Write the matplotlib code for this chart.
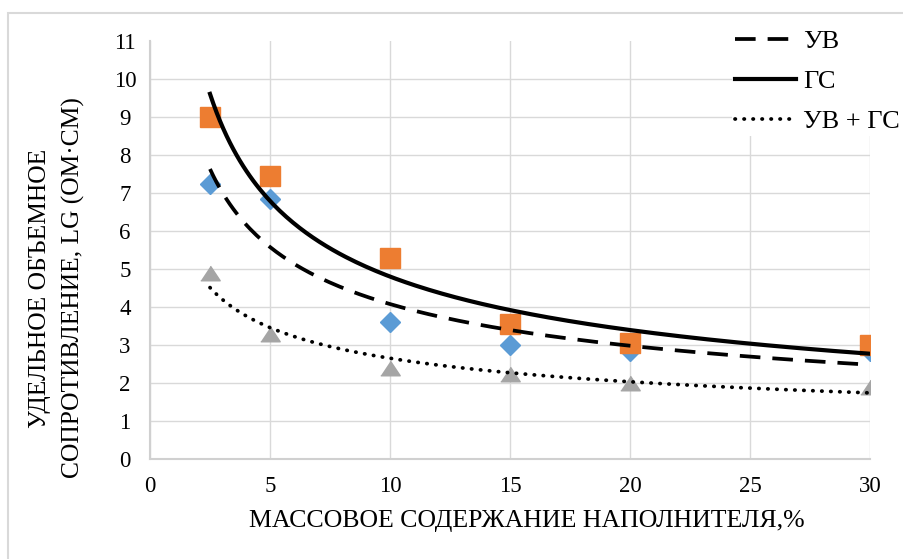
import numpy as np
import matplotlib.pyplot as plt
from matplotlib.patches import Rectangle

plt.rcParams['font.family'] = ['Liberation Serif', 'DejaVu Serif']

# filler content, %
x = [2.5, 5, 10, 15, 20, 30]
# lg of volume resistivity
uv = [7.25, 6.85, 3.6, 3.0, 2.85, 2.85]
gs = [9.0, 7.45, 5.3, 3.55, 3.05, 3.0]
uv_gs = [4.9, 3.3, 2.4, 2.25, 2.0, 1.9]

xticks = [0, 5, 10, 15, 20, 25, 30]
yticks = list(range(0, 12))

fig = plt.figure(figsize=(9.04, 5.59), dpi=100)
ax = fig.add_axes([150 / 904, 1 - 459 / 559, 720 / 904, 418 / 559])

# outer chart frame (open at right and bottom, like the source)
fig.patches.append(Rectangle((8 / 904, -0.05), 1.1, 1 - 13 / 559 + 0.05,
                             transform=fig.transFigure, fill=False,
                             edgecolor='#d9d9d9', lw=1.5, clip_on=False))

tri = [(-1, -0.75), (1, -0.75), (0, 0.75)]
ax.plot(x, uv, ls='none', marker='D', ms=10, color='#5b9bd5', zorder=3)
ax.plot(x, gs, ls='none', marker='s', ms=14, color='#ed7d31', zorder=3)
ax.plot(x, uv_gs, ls='none', marker=tri, ms=14, color='#a5a5a5', zorder=3)


# power trendlines y = a*x^b, as Excel does
def power_fit(xs, ys):
    b, lna = np.polyfit(np.log(xs), np.log(ys), 1)
    xx = np.linspace(min(xs), max(xs), 200)
    return xx, np.exp(lna) * xx ** b


xx, yy = power_fit(x, uv)
ax.plot(xx, yy, color='black', lw=2.7, dashes=(5.5, 3.2), label='УВ', zorder=4)
xx, yy = power_fit(x, gs)
ax.plot(xx, yy, color='black', lw=3.0, label='ГС', zorder=4)
xx, yy = power_fit(x, uv_gs)
ax.plot(xx, yy, color='black', lw=2.7, ls=(0, (0.1, 2.3)), dash_capstyle='round',
        label='УВ + ГС', zorder=4)

ax.set_xlim(0, 30)
ax.set_ylim(0, 11)
ax.set_xticks(xticks)
ax.set_yticks(yticks)
ax.grid(True, color='#d9d9d9', lw=1)
ax.yaxis.get_gridlines()[-1].set_visible(False)
ax.set_axisbelow(True)
for s in ['top', 'right']:
    ax.spines[s].set_visible(False)
for s in ['left', 'bottom']:
    ax.spines[s].set_color('#d0d0d0')
    ax.spines[s].set_linewidth(1.5)
ax.tick_params(length=0, labelsize=16.5)
ax.tick_params(axis='x', pad=12)
ax.tick_params(axis='y', pad=18)
for t in ax.get_yticklabels():
    t.set_ha('center')

fig.text(527 / 904, 1 - 521 / 559, 'МАССОВОЕ СОДЕРЖАНИЕ НАПОЛНИТЕЛЯ,%',
         ha='center', va='center', fontsize=18.6)
fig.text(57 / 904, 1 - 288 / 559, 'УДЕЛЬНОЕ ОБЪЕМНОЕ\nСОПРОТИВЛЕНИЕ, LG (ОМ·СМ)',
         ha='center', va='center', rotation=90, fontsize=18.4, linespacing=1.6)

leg = fig.legend(loc='upper left', bbox_to_anchor=(719 / 904, 1 - 14 / 559),
                 fontsize=19, handlelength=2.3, handletextpad=0.3,
                 labelspacing=0.62, borderpad=0.1, frameon=True,
                 fancybox=False, edgecolor='none', facecolor='white',
                 framealpha=1)

fig.savefig('out.png', dpi=100)
